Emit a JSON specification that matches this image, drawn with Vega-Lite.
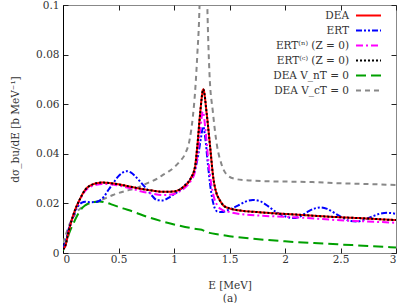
{
  "$schema": "https://vega.github.io/schema/vega-lite/v6.json",
  "width": 333,
  "height": 248,
  "autosize": {"type": "none"},
  "padding": {"left": 63, "top": 5, "right": 3, "bottom": 50},
  "config": {
    "font": "DejaVu Serif",
    "view": {"stroke": "#888888", "strokeWidth": 1},
    "axis": {"labelFont": "DejaVu Serif", "titleFont": "DejaVu Serif", "labelColor": "#333333", "titleColor": "#333333", "labelFontSize": 10.5, "titleFontSize": 10.5, "titleFontWeight": "normal", "tickColor": "#222222", "grid": false},
    "legend": {"labelFont": "DejaVu Serif"}
  },
  "data": {"values": [
    {"s":"DEA V_cT = 0","E":0,"v":0.004},{"s":"DEA V_cT = 0","E":0.03,"v":0.008},{"s":"DEA V_cT = 0","E":0.063,"v":0.012},{"s":"DEA V_cT = 0","E":0.1,"v":0.015},{"s":"DEA V_cT = 0","E":0.14,"v":0.0173},{"s":"DEA V_cT = 0","E":0.19,"v":0.019},{"s":"DEA V_cT = 0","E":0.24,"v":0.02},{"s":"DEA V_cT = 0","E":0.3,"v":0.0207},{"s":"DEA V_cT = 0","E":0.35,"v":0.0215},{"s":"DEA V_cT = 0","E":0.45,"v":0.0234},{"s":"DEA V_cT = 0","E":0.57,"v":0.0251},{"s":"DEA V_cT = 0","E":0.65,"v":0.026},{"s":"DEA V_cT = 0","E":0.75,"v":0.028},{"s":"DEA V_cT = 0","E":0.85,"v":0.03},{"s":"DEA V_cT = 0","E":0.9,"v":0.0315},{"s":"DEA V_cT = 0","E":0.95,"v":0.0328},{"s":"DEA V_cT = 0","E":1.0,"v":0.0345},{"s":"DEA V_cT = 0","E":1.05,"v":0.0368},{"s":"DEA V_cT = 0","E":1.1,"v":0.04},{"s":"DEA V_cT = 0","E":1.14,"v":0.0455},{"s":"DEA V_cT = 0","E":1.17,"v":0.055},{"s":"DEA V_cT = 0","E":1.19,"v":0.065},{"s":"DEA V_cT = 0","E":1.21,"v":0.08},{"s":"DEA V_cT = 0","E":1.23,"v":0.1},{"s":"DEA V_cT = 0","E":1.25,"v":0.15},{"s":"DEA V_cT = 0","E":1.265,"v":0.2},{"s":"DEA V_cT = 0","E":1.28,"v":0.15},{"s":"DEA V_cT = 0","E":1.3,"v":0.1},{"s":"DEA V_cT = 0","E":1.32,"v":0.072},{"s":"DEA V_cT = 0","E":1.35,"v":0.057},{"s":"DEA V_cT = 0","E":1.385,"v":0.044},{"s":"DEA V_cT = 0","E":1.43,"v":0.0355},{"s":"DEA V_cT = 0","E":1.49,"v":0.031},{"s":"DEA V_cT = 0","E":1.56,"v":0.0298},{"s":"DEA V_cT = 0","E":1.64,"v":0.0294},{"s":"DEA V_cT = 0","E":1.8,"v":0.029},{"s":"DEA V_cT = 0","E":2.0,"v":0.0288},{"s":"DEA V_cT = 0","E":2.25,"v":0.0286},{"s":"DEA V_cT = 0","E":2.5,"v":0.0281},{"s":"DEA V_cT = 0","E":2.75,"v":0.0278},{"s":"DEA V_cT = 0","E":3.0,"v":0.0274},

    {"s":"DEA V_nT = 0","E":0,"v":0.001},{"s":"DEA V_nT = 0","E":0.03,"v":0.0045},{"s":"DEA V_nT = 0","E":0.06,"v":0.0085},{"s":"DEA V_nT = 0","E":0.1,"v":0.0125},{"s":"DEA V_nT = 0","E":0.14,"v":0.016},{"s":"DEA V_nT = 0","E":0.18,"v":0.0185},{"s":"DEA V_nT = 0","E":0.23,"v":0.02},{"s":"DEA V_nT = 0","E":0.28,"v":0.0206},{"s":"DEA V_nT = 0","E":0.33,"v":0.0208},{"s":"DEA V_nT = 0","E":0.38,"v":0.0204},{"s":"DEA V_nT = 0","E":0.45,"v":0.0194},{"s":"DEA V_nT = 0","E":0.54,"v":0.018},{"s":"DEA V_nT = 0","E":0.63,"v":0.0167},{"s":"DEA V_nT = 0","E":0.75,"v":0.0147},{"s":"DEA V_nT = 0","E":0.9,"v":0.0127},{"s":"DEA V_nT = 0","E":1.05,"v":0.011},{"s":"DEA V_nT = 0","E":1.2,"v":0.0097},{"s":"DEA V_nT = 0","E":1.25,"v":0.0094},{"s":"DEA V_nT = 0","E":1.28,"v":0.0087},{"s":"DEA V_nT = 0","E":1.32,"v":0.0081},{"s":"DEA V_nT = 0","E":1.4,"v":0.0075},{"s":"DEA V_nT = 0","E":1.5,"v":0.0068},{"s":"DEA V_nT = 0","E":1.7,"v":0.0058},{"s":"DEA V_nT = 0","E":2.0,"v":0.0047},{"s":"DEA V_nT = 0","E":2.3,"v":0.0039},{"s":"DEA V_nT = 0","E":2.6,"v":0.0032},{"s":"DEA V_nT = 0","E":3.0,"v":0.0022},

    {"s":"ERT","E":0,"v":0.002},{"s":"ERT","E":0.02,"v":0.004},{"s":"ERT","E":0.05,"v":0.0095},{"s":"ERT","E":0.09,"v":0.0145},{"s":"ERT","E":0.13,"v":0.0185},{"s":"ERT","E":0.17,"v":0.0203},{"s":"ERT","E":0.2,"v":0.0207},{"s":"ERT","E":0.25,"v":0.0205},{"s":"ERT","E":0.3,"v":0.0206},{"s":"ERT","E":0.33,"v":0.0211},{"s":"ERT","E":0.37,"v":0.0228},{"s":"ERT","E":0.41,"v":0.0255},{"s":"ERT","E":0.45,"v":0.028},{"s":"ERT","E":0.5,"v":0.031},{"s":"ERT","E":0.54,"v":0.0325},{"s":"ERT","E":0.575,"v":0.033},{"s":"ERT","E":0.61,"v":0.0325},{"s":"ERT","E":0.65,"v":0.031},{"s":"ERT","E":0.7,"v":0.0285},{"s":"ERT","E":0.75,"v":0.026},{"s":"ERT","E":0.8,"v":0.0232},{"s":"ERT","E":0.85,"v":0.0213},{"s":"ERT","E":0.9,"v":0.0212},{"s":"ERT","E":0.95,"v":0.0222},{"s":"ERT","E":1.0,"v":0.0237},{"s":"ERT","E":1.05,"v":0.0253},{"s":"ERT","E":1.1,"v":0.0275},{"s":"ERT","E":1.15,"v":0.03},{"s":"ERT","E":1.19,"v":0.0335},{"s":"ERT","E":1.22,"v":0.04},{"s":"ERT","E":1.245,"v":0.047},{"s":"ERT","E":1.263,"v":0.051},{"s":"ERT","E":1.28,"v":0.047},{"s":"ERT","E":1.305,"v":0.036},{"s":"ERT","E":1.33,"v":0.026},{"s":"ERT","E":1.36,"v":0.019},{"s":"ERT","E":1.39,"v":0.0167},{"s":"ERT","E":1.43,"v":0.0165},{"s":"ERT","E":1.5,"v":0.0176},{"s":"ERT","E":1.58,"v":0.0192},{"s":"ERT","E":1.65,"v":0.0208},{"s":"ERT","E":1.71,"v":0.0214},{"s":"ERT","E":1.78,"v":0.0208},{"s":"ERT","E":1.85,"v":0.0188},{"s":"ERT","E":1.92,"v":0.0165},{"s":"ERT","E":2.0,"v":0.0148},{"s":"ERT","E":2.07,"v":0.0141},{"s":"ERT","E":2.14,"v":0.0148},{"s":"ERT","E":2.2,"v":0.0165},{"s":"ERT","E":2.27,"v":0.018},{"s":"ERT","E":2.32,"v":0.0184},{"s":"ERT","E":2.38,"v":0.0178},{"s":"ERT","E":2.45,"v":0.016},{"s":"ERT","E":2.52,"v":0.0142},{"s":"ERT","E":2.59,"v":0.0129},{"s":"ERT","E":2.65,"v":0.0127},{"s":"ERT","E":2.72,"v":0.0135},{"s":"ERT","E":2.79,"v":0.0148},{"s":"ERT","E":2.86,"v":0.0159},{"s":"ERT","E":2.92,"v":0.0162},{"s":"ERT","E":3.0,"v":0.0158},

    {"s":"ERT⁽ⁿ⁾ (Z = 0)","E":0,"v":0.0015},{"s":"ERT⁽ⁿ⁾ (Z = 0)","E":0.02,"v":0.0028},{"s":"ERT⁽ⁿ⁾ (Z = 0)","E":0.05,"v":0.0085},{"s":"ERT⁽ⁿ⁾ (Z = 0)","E":0.08,"v":0.0133},{"s":"ERT⁽ⁿ⁾ (Z = 0)","E":0.11,"v":0.0172},{"s":"ERT⁽ⁿ⁾ (Z = 0)","E":0.15,"v":0.0212},{"s":"ERT⁽ⁿ⁾ (Z = 0)","E":0.2,"v":0.025},{"s":"ERT⁽ⁿ⁾ (Z = 0)","E":0.25,"v":0.0268},{"s":"ERT⁽ⁿ⁾ (Z = 0)","E":0.3,"v":0.0275},{"s":"ERT⁽ⁿ⁾ (Z = 0)","E":0.35,"v":0.0278},{"s":"ERT⁽ⁿ⁾ (Z = 0)","E":0.4,"v":0.0278},{"s":"ERT⁽ⁿ⁾ (Z = 0)","E":0.5,"v":0.0272},{"s":"ERT⁽ⁿ⁾ (Z = 0)","E":0.6,"v":0.0262},{"s":"ERT⁽ⁿ⁾ (Z = 0)","E":0.7,"v":0.0249},{"s":"ERT⁽ⁿ⁾ (Z = 0)","E":0.8,"v":0.024},{"s":"ERT⁽ⁿ⁾ (Z = 0)","E":0.9,"v":0.0234},{"s":"ERT⁽ⁿ⁾ (Z = 0)","E":1.0,"v":0.0238},{"s":"ERT⁽ⁿ⁾ (Z = 0)","E":1.05,"v":0.0248},{"s":"ERT⁽ⁿ⁾ (Z = 0)","E":1.1,"v":0.0264},{"s":"ERT⁽ⁿ⁾ (Z = 0)","E":1.15,"v":0.029},{"s":"ERT⁽ⁿ⁾ (Z = 0)","E":1.19,"v":0.033},{"s":"ERT⁽ⁿ⁾ (Z = 0)","E":1.21,"v":0.039},{"s":"ERT⁽ⁿ⁾ (Z = 0)","E":1.235,"v":0.049},{"s":"ERT⁽ⁿ⁾ (Z = 0)","E":1.26,"v":0.057},{"s":"ERT⁽ⁿ⁾ (Z = 0)","E":1.285,"v":0.049},{"s":"ERT⁽ⁿ⁾ (Z = 0)","E":1.31,"v":0.037},{"s":"ERT⁽ⁿ⁾ (Z = 0)","E":1.335,"v":0.028},{"s":"ERT⁽ⁿ⁾ (Z = 0)","E":1.36,"v":0.0225},{"s":"ERT⁽ⁿ⁾ (Z = 0)","E":1.39,"v":0.0192},{"s":"ERT⁽ⁿ⁾ (Z = 0)","E":1.43,"v":0.0175},{"s":"ERT⁽ⁿ⁾ (Z = 0)","E":1.5,"v":0.0165},{"s":"ERT⁽ⁿ⁾ (Z = 0)","E":1.6,"v":0.0157},{"s":"ERT⁽ⁿ⁾ (Z = 0)","E":1.8,"v":0.015},{"s":"ERT⁽ⁿ⁾ (Z = 0)","E":2.0,"v":0.0146},{"s":"ERT⁽ⁿ⁾ (Z = 0)","E":2.2,"v":0.0141},{"s":"ERT⁽ⁿ⁾ (Z = 0)","E":2.5,"v":0.0132},{"s":"ERT⁽ⁿ⁾ (Z = 0)","E":2.8,"v":0.0126},{"s":"ERT⁽ⁿ⁾ (Z = 0)","E":3.0,"v":0.0122},

    {"s":"DEA","E":0,"v":0.0015},{"s":"DEA","E":0.02,"v":0.0028},{"s":"DEA","E":0.05,"v":0.0085},{"s":"DEA","E":0.08,"v":0.0135},{"s":"DEA","E":0.11,"v":0.0175},{"s":"DEA","E":0.15,"v":0.0215},{"s":"DEA","E":0.2,"v":0.0255},{"s":"DEA","E":0.25,"v":0.0273},{"s":"DEA","E":0.3,"v":0.0281},{"s":"DEA","E":0.35,"v":0.0284},{"s":"DEA","E":0.4,"v":0.0283},{"s":"DEA","E":0.5,"v":0.0277},{"s":"DEA","E":0.6,"v":0.0268},{"s":"DEA","E":0.7,"v":0.0259},{"s":"DEA","E":0.8,"v":0.0252},{"s":"DEA","E":0.9,"v":0.0247},{"s":"DEA","E":1.0,"v":0.0248},{"s":"DEA","E":1.05,"v":0.0256},{"s":"DEA","E":1.1,"v":0.0272},{"s":"DEA","E":1.15,"v":0.03},{"s":"DEA","E":1.19,"v":0.035},{"s":"DEA","E":1.21,"v":0.043},{"s":"DEA","E":1.235,"v":0.056},{"s":"DEA","E":1.264,"v":0.066},{"s":"DEA","E":1.295,"v":0.056},{"s":"DEA","E":1.325,"v":0.043},{"s":"DEA","E":1.355,"v":0.03},{"s":"DEA","E":1.38,"v":0.0245},{"s":"DEA","E":1.41,"v":0.0215},{"s":"DEA","E":1.45,"v":0.019},{"s":"DEA","E":1.5,"v":0.018},{"s":"DEA","E":1.6,"v":0.0171},{"s":"DEA","E":1.75,"v":0.0165},{"s":"DEA","E":1.9,"v":0.016},{"s":"DEA","E":2.1,"v":0.0155},{"s":"DEA","E":2.3,"v":0.0149},{"s":"DEA","E":2.5,"v":0.0144},{"s":"DEA","E":2.7,"v":0.014},{"s":"DEA","E":2.9,"v":0.0135},{"s":"DEA","E":3.0,"v":0.0133},

    {"s":"ERT⁽ᶜ⁾ (Z = 0)","E":0,"v":0.0015},{"s":"ERT⁽ᶜ⁾ (Z = 0)","E":0.02,"v":0.0028},{"s":"ERT⁽ᶜ⁾ (Z = 0)","E":0.05,"v":0.0085},{"s":"ERT⁽ᶜ⁾ (Z = 0)","E":0.08,"v":0.0135},{"s":"ERT⁽ᶜ⁾ (Z = 0)","E":0.11,"v":0.0175},{"s":"ERT⁽ᶜ⁾ (Z = 0)","E":0.15,"v":0.0215},{"s":"ERT⁽ᶜ⁾ (Z = 0)","E":0.2,"v":0.0255},{"s":"ERT⁽ᶜ⁾ (Z = 0)","E":0.25,"v":0.0273},{"s":"ERT⁽ᶜ⁾ (Z = 0)","E":0.3,"v":0.0281},{"s":"ERT⁽ᶜ⁾ (Z = 0)","E":0.35,"v":0.0284},{"s":"ERT⁽ᶜ⁾ (Z = 0)","E":0.4,"v":0.0283},{"s":"ERT⁽ᶜ⁾ (Z = 0)","E":0.5,"v":0.0277},{"s":"ERT⁽ᶜ⁾ (Z = 0)","E":0.6,"v":0.0268},{"s":"ERT⁽ᶜ⁾ (Z = 0)","E":0.7,"v":0.0259},{"s":"ERT⁽ᶜ⁾ (Z = 0)","E":0.8,"v":0.0252},{"s":"ERT⁽ᶜ⁾ (Z = 0)","E":0.9,"v":0.0247},{"s":"ERT⁽ᶜ⁾ (Z = 0)","E":1.0,"v":0.0248},{"s":"ERT⁽ᶜ⁾ (Z = 0)","E":1.05,"v":0.0256},{"s":"ERT⁽ᶜ⁾ (Z = 0)","E":1.1,"v":0.0272},{"s":"ERT⁽ᶜ⁾ (Z = 0)","E":1.15,"v":0.03},{"s":"ERT⁽ᶜ⁾ (Z = 0)","E":1.19,"v":0.035},{"s":"ERT⁽ᶜ⁾ (Z = 0)","E":1.21,"v":0.043},{"s":"ERT⁽ᶜ⁾ (Z = 0)","E":1.235,"v":0.056},{"s":"ERT⁽ᶜ⁾ (Z = 0)","E":1.264,"v":0.066},{"s":"ERT⁽ᶜ⁾ (Z = 0)","E":1.295,"v":0.056},{"s":"ERT⁽ᶜ⁾ (Z = 0)","E":1.325,"v":0.043},{"s":"ERT⁽ᶜ⁾ (Z = 0)","E":1.355,"v":0.03},{"s":"ERT⁽ᶜ⁾ (Z = 0)","E":1.38,"v":0.0245},{"s":"ERT⁽ᶜ⁾ (Z = 0)","E":1.41,"v":0.0215},{"s":"ERT⁽ᶜ⁾ (Z = 0)","E":1.45,"v":0.019},{"s":"ERT⁽ᶜ⁾ (Z = 0)","E":1.5,"v":0.018},{"s":"ERT⁽ᶜ⁾ (Z = 0)","E":1.6,"v":0.0171},{"s":"ERT⁽ᶜ⁾ (Z = 0)","E":1.75,"v":0.0165},{"s":"ERT⁽ᶜ⁾ (Z = 0)","E":1.9,"v":0.016},{"s":"ERT⁽ᶜ⁾ (Z = 0)","E":2.1,"v":0.0155},{"s":"ERT⁽ᶜ⁾ (Z = 0)","E":2.3,"v":0.0149},{"s":"ERT⁽ᶜ⁾ (Z = 0)","E":2.5,"v":0.0144},{"s":"ERT⁽ᶜ⁾ (Z = 0)","E":2.7,"v":0.014},{"s":"ERT⁽ᶜ⁾ (Z = 0)","E":2.9,"v":0.0135},{"s":"ERT⁽ᶜ⁾ (Z = 0)","E":3.0,"v":0.0133}
  ]},
  "layer": [
    {
      "mark": {"type": "line", "clip": true, "strokeWidth": 2, "interpolate": "monotone"},
      "encoding": {
        "x": {"field": "E", "type": "quantitative", "scale": {"domain": [0, 3], "nice": false, "zero": false},
              "axis": {"values": [0, 0.5, 1, 1.5, 2, 2.5, 3], "format": "~g", "title": ["E [MeV]", "(a)"], "titleFontStyle": "normal", "domain": false, "tickSize": -5, "labelPadding": 6, "titlePadding": 16, "titleLineHeight": 13}},
        "y": {"field": "v", "type": "quantitative", "scale": {"domain": [0, 0.1], "nice": false},
              "axis": {"values": [0, 0.02, 0.04, 0.06, 0.08, 0.1], "format": "~g", "title": "dσ_bu/dE [b MeV⁻¹]", "domain": true, "domainColor": "#000000", "tickSize": -5, "labelPadding": 9, "titlePadding": 15}},
        "color": {"field": "s", "type": "nominal",
                  "scale": {"domain": ["DEA", "ERT", "ERT⁽ⁿ⁾ (Z = 0)", "ERT⁽ᶜ⁾ (Z = 0)", "DEA V_nT = 0", "DEA V_cT = 0"],
                            "range": ["#FF0000", "#0000FF", "#FF00FF", "#000000", "#00A000", "#888888"]},
                  "legend": {"title": null, "orient": "none", "legendX": 299.5, "legendY": 4.5, "symbolType": "M-2.5,0H2.5", "symbolSize": 100, "symbolStrokeWidth": 2, "labelAlign": "right", "labelOffset": -25.5, "labelFontSize": 10.5, "labelFontWeight": "normal", "labelColor": "#333333", "rowPadding": 3, "padding": 0, "labelLimit": 200}},
        "strokeDash": {"field": "s", "type": "nominal",
                  "scale": {"domain": ["DEA", "ERT", "ERT⁽ⁿ⁾ (Z = 0)", "ERT⁽ᶜ⁾ (Z = 0)", "DEA V_nT = 0", "DEA V_cT = 0"],
                            "range": [[1, 0], [6, 2, 2, 2, 2, 2], [7, 3, 2, 3], [2, 2], [10, 5], [5, 4]]}}
      }
    },
    {
      "mark": {"type": "point", "opacity": 0},
      "encoding": {
        "x": {"field": "E", "type": "quantitative", "axis": {"orient": "top", "values": [0, 0.5, 1, 1.5, 2, 2.5, 3], "labels": false, "title": null, "domain": false, "tickSize": -5}},
        "y": {"field": "v", "type": "quantitative", "axis": {"orient": "right", "values": [0, 0.02, 0.04, 0.06, 0.08, 0.1], "labels": false, "title": null, "domain": false, "tickSize": -5}}
      }
    }
  ],
  "resolve": {"axis": {"x": "independent", "y": "independent"}}
}
